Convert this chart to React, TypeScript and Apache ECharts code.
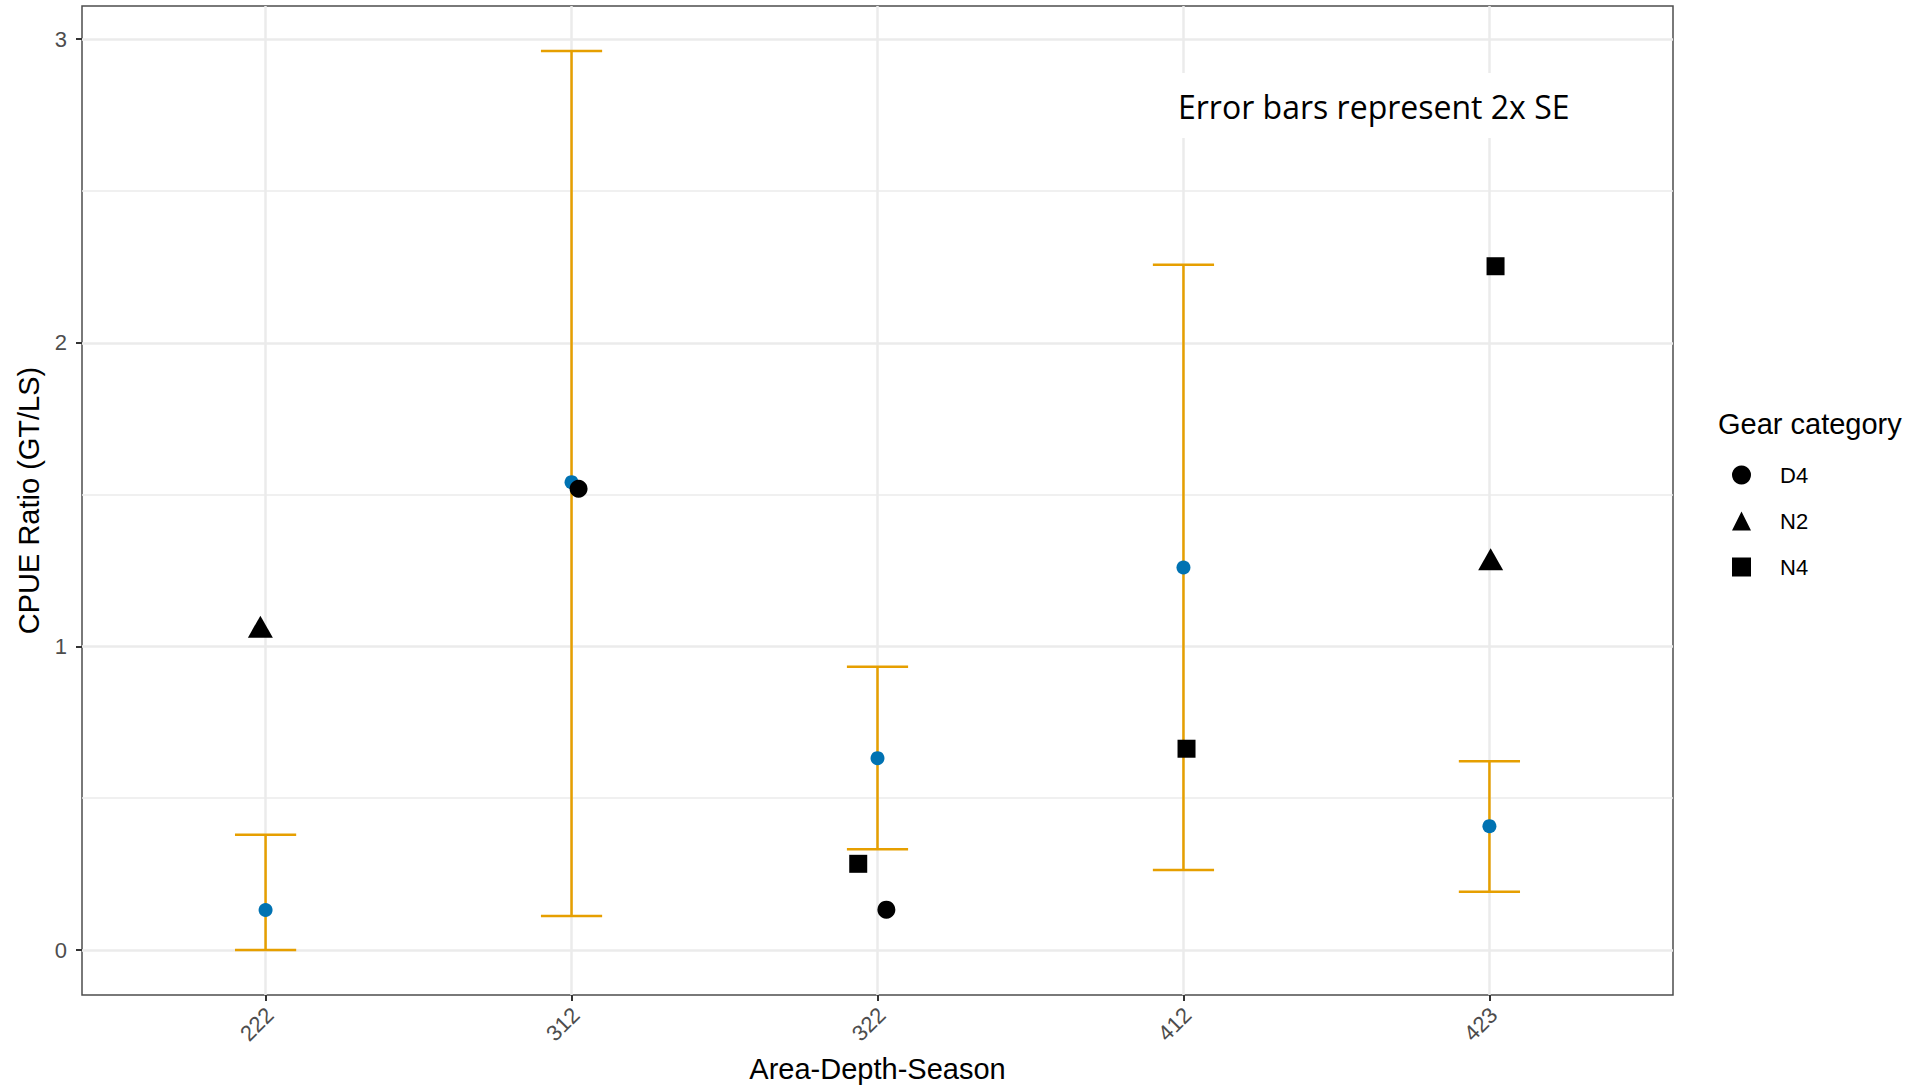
import React, { useEffect, useRef } from "react";
import * as echarts from "echarts";

// ---- data ----
const categories = ["222", "312", "322", "412", "423"];
const meanValues = [0.132, 1.541, 0.632, 1.26, 0.408];
const lowerValues = [0.0, 0.112, 0.332, 0.264, 0.192];
const upperValues = [0.38, 2.961, 0.933, 2.257, 0.622];

const gearNames = ["D4", "N2", "N4"];
const d4Cats = ["312", "322"];
const d4Offsets = [0.023, 0.029];
const d4Values = [1.519, 0.133];
const n2Cats = ["222", "423"];
const n2Offsets = [-0.017, 0.004];
const n2Values = [1.065, 1.287];
const n4Cats = ["322", "412", "423"];
const n4Offsets = [-0.063, 0.01, 0.02];
const n4Values = [0.284, 0.663, 2.252];

const yTicks = [0, 1, 2, 3];
const xTicks = [1, 2, 3, 4, 5];

const FONT = "Liberation Sans";

function gearPoints(cats: string[], offs: number[], vals: number[]) {
  return cats.map((c, i) => [categories.indexOf(c) + 1 + offs[i], vals[i]]);
}

export default function App() {
  const ref = useRef<HTMLDivElement>(null);
  useEffect(() => {
    if (!ref.current) return;
    const chart = echarts.init(ref.current, null, { renderer: "svg" });
    const dataMax = Math.max(...upperValues);
    const dataMin = Math.min(0, ...lowerValues);
    const span = dataMax - dataMin;
    const yMin = dataMin - 0.05 * span;
    const yMax = dataMax + 0.05 * span;

    const errData = categories.map((c, i) => [i + 1, lowerValues[i], upperValues[i]]);
    const meanData = categories.map((c, i) => [i + 1, meanValues[i]]);

    const option: any = {
      animation: false,
      backgroundColor: "#ffffff",
      grid: {
        left: 82,
        right: 240,
        top: 6,
        bottom: 92,
        show: true,
        borderColor: "#4d4d4d",
        borderWidth: 1.5,
        backgroundColor: "transparent",
      },
      xAxis: {
        type: "value",
        min: 0.4,
        max: 5.6,
        name: "Area-Depth-Season",
        nameLocation: "middle",
        nameGap: 59,
        nameTextStyle: { fontSize: 29, color: "#000", fontFamily: FONT },
        axisLine: { show: false, onZero: false },
        axisTick: {
          show: true,
          length: 6,
          customValues: xTicks,
          lineStyle: { color: "#333", width: 2 },
        },
        axisLabel: {
          customValues: xTicks,
          rotate: 45,
          margin: 12,
          verticalAlign: "top",
          lineHeight: 12,
          fontSize: 22,
          color: "#4D4D4D",
          fontFamily: FONT,
          formatter: (v: number) => categories[Math.round(v) - 1] ?? "",
        },
        splitLine: { show: true, lineStyle: { color: "#EBEBEB", width: 2.5 } },
      },
      yAxis: {
        type: "value",
        min: yMin,
        max: yMax,
        minInterval: 1,
        maxInterval: 1,
        name: "CPUE Ratio (GT/LS)",
        nameLocation: "middle",
        nameGap: 35,
        nameTextStyle: { fontSize: 29, color: "#000", fontFamily: FONT },
        axisLine: { show: false, onZero: false },
        axisTick: {
          show: true,
          length: 6,
          customValues: yTicks,
          lineStyle: { color: "#333", width: 2 },
        },
        axisLabel: {
          customValues: yTicks,
          margin: 15,
          fontSize: 22,
          color: "#4D4D4D",
          fontFamily: FONT,
        },
        splitLine: { show: true, lineStyle: { color: "#EBEBEB", width: 2.5 } },
        minorTick: { show: false, splitNumber: 2 },
        minorSplitLine: { show: true, lineStyle: { color: "#EBEBEB", width: 1.5 } },
      },
      legend: {
        data: [
          { name: "D4", icon: "circle" },
          { name: "N2", icon: "triangle" },
          { name: "N4", icon: "rect" },
        ],
        orient: "vertical",
        left: 1727,
        top: 459,
        itemWidth: 19,
        itemHeight: 19,
        itemGap: 24,
        selectedMode: false,
        textStyle: {
          fontSize: 22,
          color: "#000",
          fontFamily: FONT,
          padding: [0, 0, 0, 24],
        },
      },
      graphic: [
        {
          type: "text",
          x: 1718,
          y: 424,
          z: 20,
          style: {
            text: "Gear category",
            fontSize: 29,
            fontFamily: FONT,
            fill: "#000",
            verticalAlign: "middle",
          },
        },
        {
          type: "rect",
          x: 1163,
          y: 73,
          z: 20,
          shape: { x: 0, y: 0, width: 425, height: 65 },
          style: { fill: "#ffffff" },
        },
        {
          type: "text",
          x: 1178,
          y: 106,
          z: 21,
          style: {
            text: "Error bars represent 2x SE",
            fontSize: 32,
            fontFamily: "Open Sans",
            fill: "#000",
            verticalAlign: "middle",
            align: "left",
          },
        },
      ],
      series: [
        {
          type: "custom",
          name: "errorbar",
          z: 3,
          data: errData,
          encode: { x: 0, y: [1, 2] },
          renderItem: (params: any, api: any) => {
            const x = api.value(0);
            const lo = api.value(1);
            const hi = api.value(2);
            const top = api.coord([x, hi]);
            const bot = api.coord([x, lo]);
            const half = api.size([0.1, 0])[0];
            const style = { stroke: "#E69F00", lineWidth: 2.5 };
            return {
              type: "group",
              children: [
                { type: "line", shape: { x1: top[0], y1: top[1], x2: bot[0], y2: bot[1] }, style },
                { type: "line", shape: { x1: top[0] - half, y1: top[1], x2: top[0] + half, y2: top[1] }, style },
                { type: "line", shape: { x1: bot[0] - half, y1: bot[1], x2: bot[0] + half, y2: bot[1] }, style },
              ],
            };
          },
        },
        {
          type: "scatter",
          name: "mean",
          z: 4,
          symbol: "circle",
          symbolSize: 14,
          itemStyle: { color: "#0072B2", opacity: 1 },
          data: meanData,
        },
        {
          type: "scatter",
          name: gearNames[0],
          z: 5,
          symbol: "circle",
          symbolSize: 18,
          itemStyle: { color: "#000", opacity: 1 },
          data: gearPoints(d4Cats, d4Offsets, d4Values),
        },
        {
          type: "scatter",
          name: gearNames[1],
          z: 5,
          symbol: "triangle",
          symbolSize: [25, 22],
          itemStyle: { color: "#000", opacity: 1 },
          data: gearPoints(n2Cats, n2Offsets, n2Values),
        },
        {
          type: "scatter",
          name: gearNames[2],
          z: 5,
          symbol: "rect",
          symbolSize: 18,
          itemStyle: { color: "#000", opacity: 1 },
          data: gearPoints(n4Cats, n4Offsets, n4Values),
        },
      ],
    };
    chart.setOption(option);
    return () => chart.dispose();
  }, []);

  return (
    <div
      ref={ref}
      style={{ position: "fixed", left: 0, top: 0, width: 1913, height: 1088, background: "#fff" }}
    />
  );
}
